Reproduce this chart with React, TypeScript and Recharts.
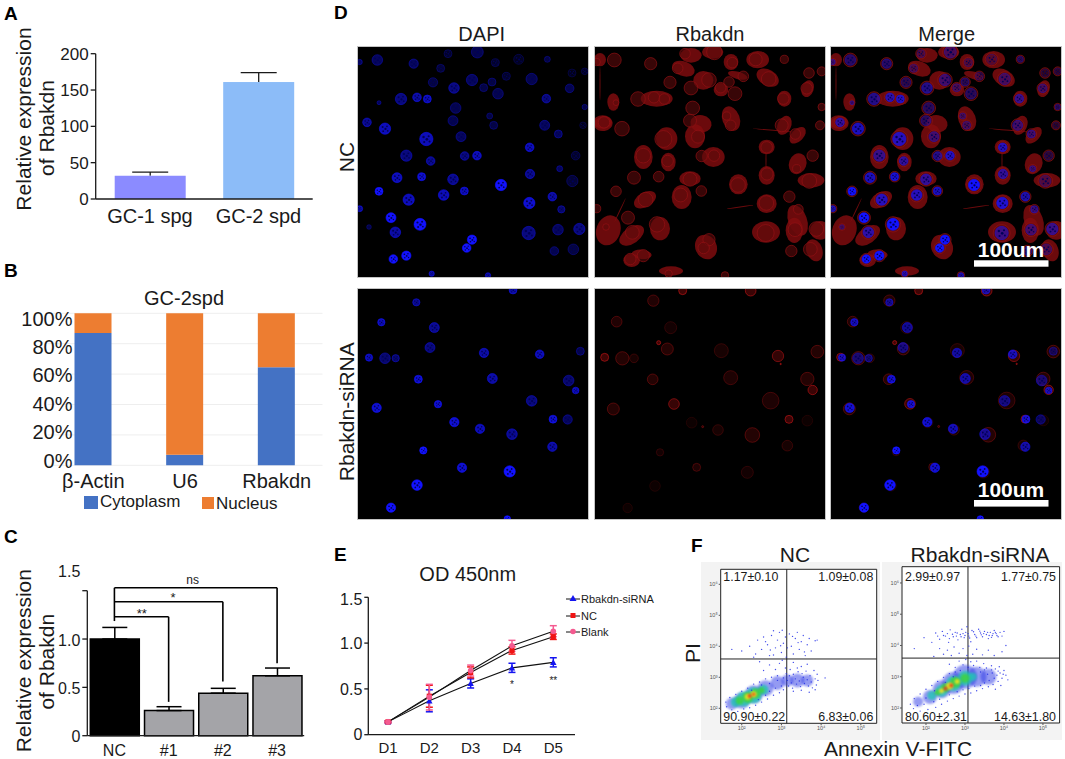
import {
  Bar,
  BarChart,
  CartesianGrid,
  Cell,
  ErrorBar,
  Line,
  LineChart,
  ReferenceArea,
  ReferenceLine,
  Scatter,
  ScatterChart,
  XAxis,
  YAxis,
} from 'recharts';

const FONT = '"Liberation Sans", Arial, sans-serif';
const INK = '#1a1a1a';

// Panel A
const cellLines = ['GC-1 spg', 'GC-2 spd'];
const lineExpression = [32, 161];
const lineExpressionErr = [5, 13];
const lineColors = ['#8b8bff', '#8cbcf8'];

// Panel B
const fractionGenes = ['β-Actin', 'U6', 'Rbakdn'];
const cytoplasmPct = [87, 7, 64.5];
const nucleusPct = [13, 93, 35.5];

// Panel C
const knockdownGroups = ['NC', '#1', '#2', '#3'];
const knockdownValues = [1.0, 0.26, 0.44, 0.62];
const knockdownErr = [0.12, 0.04, 0.05, 0.08];
const knockdownColors = ['#000000', '#a4a4a8', '#a4a4a8', '#a4a4a8'];

// Panel E
const days = ['D1', 'D2', 'D3', 'D4', 'D5'];
const sirnaOD = [0.14, 0.37, 0.56, 0.73, 0.79];
const sirnaErr = [0.01, 0.12, 0.05, 0.05, 0.05];
const ncOD = [0.14, 0.42, 0.68, 0.92, 1.07];
const ncErr = [0.01, 0.12, 0.06, 0.04, 0.03];
const blankOD = [0.14, 0.41, 0.7, 0.97, 1.13];
const blankErr = [0.01, 0.14, 0.06, 0.06, 0.06];

// Panel D: fields of view, [x, y, radius, intensity]
const nucleiNC = [
  [143, 179, 16, 0.6], [252, 190, 14, 0.6], [333, 204, 12, 0.45], [310, 246, 14, 0.5], [427, 239, 17, 0.6],
  [373, 263, 16, 0.7], [462, 262, 12, 0.5], [505, 280, 16, 0.55], [487, 245, 12, 0.5], [606, 236, 17, 0.55],
  [720, 264, 13, 0.55], [650, 295, 13, 0.7], [214, 296, 17, 0.7], [262, 291, 13, 0.8], [293, 296, 12, 0.85],
  [148, 307, 6, 0.6], [378, 323, 16, 0.55], [370, 361, 15, 0.55], [480, 347, 9, 0.5], [492, 375, 12, 0.5],
  [112, 366, 13, 0.75], [166, 385, 17, 0.85], [290, 416, 20, 0.85], [394, 409, 15, 0.6], [645, 375, 15, 0.6],
  [686, 401, 12, 0.6], [600, 441, 13, 0.85], [230, 466, 17, 0.7], [303, 482, 13, 0.75], [405, 467, 13, 0.7],
  [442, 466, 13, 0.85], [738, 466, 13, 0.4], [601, 521, 14, 0.75], [202, 532, 15, 0.85], [276, 529, 12, 0.9],
  [370, 537, 16, 0.75], [514, 554, 17, 1], [728, 542, 17, 0.45], [148, 573, 12, 1], [237, 598, 17, 0.85],
  [342, 584, 16, 0.85], [404, 572, 12, 0.85], [599, 608, 17, 0.9], [668, 589, 13, 0.8], [695, 627, 11, 0.65],
  [184, 652, 15, 1], [271, 672, 18, 1], [197, 696, 16, 0.8], [597, 698, 20, 0.7], [685, 688, 16, 0.6],
  [749, 686, 17, 0.7], [427, 718, 14, 1], [411, 743, 13, 1], [674, 752, 13, 0.55], [731, 747, 16, 0.5],
  [191, 776, 13, 1], [230, 766, 14, 1], [443, 155, 18, 0.55], [355, 160, 12, 0.4], [497, 187, 12, 0.4],
  [567, 177, 15, 0.35], [653, 177, 9, 0.5], [727, 218, 12, 0.3], [765, 213, 10, 0.35], [530, 228, 12, 0.4],
  [765, 320, 8, 0.5], [760, 375, 10, 0.3], [90, 185, 8, 0.6], [90, 625, 9, 0.8], [118, 680, 7, 0.5],
  [690, 505, 9, 0.6], [306, 820, 8, 0.8], [475, 825, 8, 0.8],
];

// [x, y, half length, half width, tilt]
const cytoplasmNC = [
  [125, 690, 36, 46, 20], [195, 705, 42, 24, -35], [280, 685, 30, 35, 0], [110, 370, 28, 22, -10],
  [140, 305, 18, 26, 0], [230, 470, 28, 36, 0], [345, 590, 30, 36, 0], [235, 598, 36, 22, -30],
  [195, 780, 25, 20, 0], [225, 762, 30, 14, 5], [100, 178, 18, 20, 0], [350, 205, 35, 22, 20],
  [493, 355, 26, 38, -20], [403, 370, 32, 26, 10], [108, 365, 28, 20, 0], [733, 540, 40, 22, 0],
  [693, 490, 26, 32, 20], [598, 695, 42, 32, 0], [693, 660, 28, 48, -20], [653, 295, 21, 24, 0],
  [573, 178, 34, 26, 0], [373, 165, 32, 22, 0], [493, 185, 22, 24, 0], [438, 155, 32, 20, 0],
  [603, 232, 36, 24, 30], [513, 225, 30, 11, 15], [723, 265, 18, 26, 20], [653, 375, 20, 30, 25],
  [693, 405, 30, 18, -45], [418, 740, 32, 38, -25], [743, 750, 24, 34, -20], [683, 690, 26, 38, 0],
  [463, 268, 22, 20, 0], [313, 812, 36, 14, 0], [600, 610, 30, 28, 0], [515, 552, 28, 30, 0],
  [600, 440, 24, 22, 0], [600, 525, 24, 28, 0], [300, 415, 32, 34, 0], [385, 408, 30, 36, 0],
  [440, 470, 34, 30, 0], [305, 485, 22, 28, 0], [370, 535, 32, 22, 0], [760, 690, 30, 28, 0],
  [270, 295, 48, 24, 0], [410, 240, 30, 28, 0], [620, 390, 62, 1.5, 5], [598, 480, 1.5, 30, 0],
  [100, 250, 1.5, 50, 0], [520, 620, 40, 1.5, -8], [160, 630, 1.5, 40, 25],
];

const nucleiSi = [
  [260, 67, 11, 0.75], [155, 127, 11, 0.85], [314, 143, 15, 0.75], [301, 203, 15, 0.7], [118, 233, 11, 0.85],
  [166, 235, 16, 0.65], [198, 235, 11, 0.65], [463, 219, 14, 0.8], [630, 223, 13, 0.85], [752, 214, 12, 0.55],
  [266, 298, 12, 0.9], [488, 296, 15, 0.8], [717, 302, 16, 0.65], [738, 332, 10, 0.85], [141, 384, 14, 0.9],
  [325, 373, 11, 0.9], [606, 363, 16, 0.7], [374, 427, 14, 0.9], [451, 447, 14, 0.85], [547, 463, 16, 0.75],
  [670, 418, 12, 0.9], [714, 419, 14, 0.6], [668, 501, 14, 0.8], [281, 512, 11, 1], [397, 564, 14, 0.9],
  [540, 575, 17, 1], [262, 616, 16, 1], [184, 684, 14, 1], [550, 30, 12, 0.8], [533, 718, 10, 1],
];

const redSi = [
  [260, 62, 17, 0.5], [348, 32, 12, 0.95], [150, 125, 16, 0.5], [312, 143, 18, 0.3], [302, 207, 18, 0.55],
  [276, 188, 6, 1], [114, 232, 12, 0.95], [167, 235, 20, 0.55], [202, 235, 13, 0.35], [258, 298, 16, 0.55],
  [322, 372, 16, 0.85], [140, 387, 18, 0.55], [280, 517, 11, 0.3], [265, 618, 16, 0.2], [183, 684, 14, 0.2],
  [375, 428, 16, 0.2], [390, 562, 12, 0.45], [552, 32, 16, 0.9], [464, 212, 21, 0.35], [634, 228, 17, 0.8],
  [752, 215, 19, 0.55], [492, 293, 21, 0.45], [722, 297, 20, 0.55], [738, 330, 14, 0.9], [612, 362, 25, 0.45],
  [667, 418, 12, 0.9], [722, 422, 16, 0.2], [454, 450, 16, 0.35], [557, 465, 22, 0.55], [662, 497, 16, 0.35],
  [542, 577, 18, 0.3], [642, 252, 2, 1], [408, 440, 3, 0.6],
];

// Panel F: log10 events, [annexin, PI], and [annexin, PI, radius, level] for the dense core
const densityNC = [
  [1.75, 2.15, 6, 0], [2.0, 2.25, 8, 0], [2.3, 2.45, 9, 0], [2.6, 2.65, 8, 0], [2.9, 2.82, 7, 0], [3.15, 2.9, 6, 0],
  [3.4, 2.9, 7, 0], [3.65, 2.9, 6, 0],
  [1.85, 2.2, 5, 1], [2.05, 2.3, 7.5, 1], [2.3, 2.42, 8, 1], [2.55, 2.6, 5, 1],
  [1.95, 2.25, 4, 2], [2.15, 2.35, 5.5, 2], [2.35, 2.48, 5, 2], [2.5, 2.58, 3, 2],
  [2.15, 2.37, 3, 3], [2.3, 2.45, 3, 3], [2.2, 2.4, 2, 4], [2.3, 2.45, 1.5, 4],
];
const densitySi = [
  [1.8, 2.2, 5, 0], [2.1, 2.35, 7, 0], [2.4, 2.6, 9, 0], [2.7, 2.8, 11, 0], [3.0, 3.0, 12, 0], [3.3, 3.0, 10, 0], [3.6, 3.0, 8, 0],
  [2.15, 2.4, 4.5, 1], [2.4, 2.55, 6, 1], [2.7, 2.78, 7.5, 1], [3.0, 2.95, 7.5, 1], [3.2, 3.0, 4, 1],
  [2.3, 2.5, 3, 2], [2.5, 2.65, 4.5, 2], [2.75, 2.82, 5.5, 2], [3.0, 2.95, 4.5, 2],
  [2.4, 2.55, 2.5, 3], [2.6, 2.7, 3.5, 3], [2.8, 2.85, 2.5, 3], [2.5, 2.62, 2, 4], [2.65, 2.72, 2, 4],
];
const eventsNC = [
  [2.2, 4.0], [2.35, 3.75], [2.4, 4.2], [2.5, 3.9], [2.55, 4.3], [2.65, 4.05], [2.7, 3.7], [2.75, 4.35], [2.8, 4.5],
  [2.85, 3.95], [2.9, 4.2], [2.95, 4.45], [3.0, 3.8], [3.05, 4.1], [3.1, 4.3], [3.12, 3.65], [3.2, 4.4], [3.25, 4.0],
  [3.3, 3.75], [3.35, 4.25], [3.4, 4.45], [3.45, 3.9], [3.5, 4.15], [3.55, 4.35], [3.6, 3.7], [3.65, 4.05], [3.7, 4.25],
  [3.75, 3.85], [3.85, 4.18], [3.9, 4.2], [1.75, 3.9], [2.0, 3.85], [2.6, 4.15], [2.3, 3.65], [2.8, 3.72], [3.15, 3.95],
  [3.42, 4.12], [2.98, 4.02], [3.28, 4.32], [2.72, 3.88], [3.58, 3.82], [3.02, 4.52], [2.45, 3.5], [2.7, 3.4], [2.95, 3.45],
  [3.1, 3.3], [3.3, 3.48], [3.5, 3.35], [2.55, 3.22], [2.85, 3.25], [3.02, 3.55], [3.22, 3.25], [3.4, 3.3], [3.65, 3.42],
  [3.12, 3.12], [3.2, 3.05], [3.3, 3.1], [3.42, 3.18], [3.52, 3.12], [3.62, 3.2], [3.72, 3.05], [3.82, 3.22], [3.9, 3.1],
  [3.15, 2.9], [3.25, 2.82], [3.35, 2.95], [3.45, 2.88], [3.55, 3.0], [3.65, 2.92], [3.75, 2.85], [3.85, 2.95], [3.92, 2.9],
  [3.18, 2.72], [3.28, 2.65], [3.38, 2.78], [3.48, 2.7], [3.58, 2.8], [3.68, 2.72], [3.78, 2.66], [3.88, 2.75], [3.3, 2.55],
  [3.5, 2.58], [3.7, 2.52], [3.85, 2.6], [4.1, 2.98], [3.05, 2.98], [2.9, 3.05], [2.75, 3.0], [2.6, 2.95], [2.45, 2.85],
  [2.3, 2.78], [2.15, 2.65], [2.0, 2.55], [1.85, 2.45], [1.7, 2.35], [1.6, 2.2], [1.62, 2.05], [1.75, 1.95], [1.9, 1.9],
  [2.05, 1.98], [2.2, 2.02], [2.35, 2.1], [2.5, 2.2], [2.65, 2.3], [2.8, 2.42], [2.95, 2.5], [3.05, 2.6], [3.0, 2.72],
  [2.85, 2.65], [2.7, 2.55], [2.9, 2.9], [2.7, 2.8], [2.5, 2.75], [2.25, 2.58], [2.6, 2.42], [2.42, 2.28],
];
const eventsSi = [
  [1.95, 4.25], [2.15, 4.1], [2.25, 4.4], [2.35, 4.2], [2.42, 4.45], [2.5, 4.3], [2.58, 4.1], [2.62, 4.5], [2.7, 4.28],
  [2.75, 4.42], [2.82, 4.18], [2.88, 4.35], [2.92, 4.52], [2.98, 4.25], [3.02, 4.42], [3.05, 4.6], [3.1, 4.3], [3.15, 4.12],
  [3.18, 4.48], [3.25, 4.35], [3.3, 4.25], [3.35, 4.52], [3.4, 4.4], [3.45, 4.28], [3.5, 4.45], [3.55, 4.35], [3.6, 4.22],
  [3.65, 4.42], [3.7, 4.32], [3.75, 4.48], [3.8, 4.38], [3.85, 4.28], [3.9, 4.42], [3.95, 4.3], [4.0, 4.45], [2.55, 4.38],
  [2.68, 4.36], [2.8, 4.4], [2.95, 4.38], [3.08, 4.38], [3.22, 4.44], [3.42, 4.34], [3.58, 4.42], [3.72, 4.38], [3.82, 4.32],
  [2.6, 4.22], [2.78, 4.3], [2.9, 4.28], [3.0, 4.32], [3.12, 4.24], [3.28, 4.3], [3.38, 4.46], [3.48, 4.38], [3.62, 4.32],
  [3.68, 4.26], [3.78, 4.42], [2.45, 4.32], [2.3, 4.3], [2.2, 3.65], [2.35, 3.9], [2.45, 3.72], [2.55, 3.85], [2.65, 3.68],
  [2.72, 3.95], [2.85, 3.75], [2.95, 3.9], [3.05, 3.68], [3.1, 3.98], [3.2, 3.72], [3.3, 3.88], [3.45, 3.7], [3.6, 3.85],
  [3.75, 3.68], [3.95, 3.8], [1.7, 3.9], [4.05, 4.0], [2.6, 3.4], [2.75, 3.3], [2.85, 3.5], [2.95, 3.38], [3.02, 3.55],
  [3.08, 3.3], [3.15, 3.48], [3.22, 3.36], [3.3, 3.5], [3.38, 3.3], [3.48, 3.42], [3.55, 3.28], [3.68, 3.35], [3.78, 3.25],
  [3.88, 3.32], [4.0, 3.2], [4.05, 3.05], [3.95, 2.95], [3.85, 2.85], [3.72, 2.75], [3.6, 2.68], [3.45, 2.62], [3.3, 2.55],
  [3.15, 2.48], [3.0, 2.45], [2.85, 2.38], [2.7, 2.3], [2.55, 2.22], [2.4, 2.12], [2.25, 2.02], [2.05, 1.95], [1.85, 1.9],
  [1.68, 1.98], [1.6, 2.12], [1.7, 2.3], [1.85, 2.45], [2.0, 2.6], [2.15, 2.72], [2.3, 2.85], [2.45, 2.98], [2.6, 3.1],
  [2.75, 3.15], [2.88, 3.2], [3.82, 3.05], [3.7, 3.12], [3.58, 3.08], [3.9, 3.12], [3.75, 2.95], [3.62, 2.88], [3.5, 2.8],
  [3.4, 2.72], [3.85, 3.18], [3.98, 3.08], [3.68, 3.22], [3.5, 3.22], [3.4, 3.15], [3.25, 2.7], [3.1, 2.62], [2.95, 2.58],
  [2.8, 2.52], [2.6, 2.42], [2.35, 2.28], [2.2, 2.2], [1.95, 2.12], [1.78, 2.08], [2.0, 2.32], [2.22, 2.55], [2.5, 2.82],
  [2.7, 3.0], [4.1, 2.9], [3.92, 2.72], [3.78, 2.6],
];

const densityColors = ['#2a35e6', '#22c4b4', '#3ed23e', '#f0e020', '#ee3a1a'];
const densityOpacity = [0.5, 0.8, 0.85, 0.9, 0.95];
const statsNC = ['1.17±0.10', '1.09±0.08', '90.90±0.22', '6.83±0.06'];
const statsSi = ['2.99±0.97', '1.77±0.75', '80.60±2.31', '14.63±1.80'];
const superscripts: Record<number, string> = { 2: '²', 3: '³', 4: '⁴', 5: '⁵', 6: '⁶' };

const toBars = (labels: string[], values: number[], errs: number[]) =>
  labels.map((name, i) => ({ name, value: values[i], err: [0, errs[i]], up: errs[i] }));

const fractionData = fractionGenes.map((name, i) => ({
  name,
  cytoplasm: cytoplasmPct[i],
  nucleus: nucleusPct[i],
}));

const odData = days.map((name, i) => ({
  name,
  sirna: sirnaOD[i],
  sirnaErr: sirnaErr[i],
  nc: ncOD[i],
  ncErr: ncErr[i],
  blank: blankOD[i],
  blankErr: blankErr[i],
}));

const spots = (rows: number[][]) => rows.map(([x, y, r, b]) => ({ x, y, r, b }));
const bodies = (rows: number[][]) => rows.map(([x, y, rx, ry, tilt]) => ({ x, y, rx, ry, tilt }));
const events = (rows: number[][]) => rows.map(([x, y]) => ({ x, y }));

// Field coordinates are 3x the panel's pixels
const FIELD = 3;

function Frame({ left, top, children, style }: { left: number; top: number; children: React.ReactNode; style?: React.CSSProperties }) {
  return <div style={{ position: 'absolute', left, top, ...style }}>{children}</div>;
}

function NucleusDot(props: any) {
  const { cx, cy, payload } = props;
  const r = payload.r / FIELD;
  const dim = payload.b * payload.b;
  const speck = '#000058';
  return (
    <g>
      <circle cx={cx} cy={cy} r={r} fill="#1212ff" fillOpacity={dim} stroke="#1212ff" strokeOpacity={payload.b} strokeWidth={0.6} />
      <circle cx={cx - r * 0.42} cy={cy - r * 0.3} r={r * 0.18} fill={speck} />
      <circle cx={cx + r * 0.35} cy={cy - r * 0.42} r={r * 0.16} fill={speck} />
      <circle cx={cx + r * 0.08} cy={cy + r * 0.05} r={r * 0.2} fill={speck} />
      <circle cx={cx - r * 0.32} cy={cy + r * 0.45} r={r * 0.16} fill={speck} />
      <circle cx={cx + r * 0.48} cy={cy + r * 0.38} r={r * 0.15} fill={speck} />
    </g>
  );
}

function CytoplasmBlob(props: any) {
  const { cx, cy, payload } = props;
  return (
    <ellipse
      cx={cx}
      cy={cy}
      rx={payload.rx / FIELD}
      ry={payload.ry / FIELD}
      transform={`rotate(${payload.tilt} ${cx} ${cy})`}
      fill="#860d0f"
      fillOpacity={0.8}
    />
  );
}

function RingHalo(props: any) {
  const { cx, cy, payload } = props;
  return (
    <circle
      cx={cx}
      cy={cy}
      r={(payload.r * 1.2) / FIELD + 0.5}
      fill="#5e0a0c"
      fillOpacity={0.6}
      stroke="#961214"
      strokeOpacity={0.7}
      strokeWidth={0.9}
    />
  );
}

function FaintCell(props: any) {
  const { cx, cy, payload } = props;
  return (
    <circle
      cx={cx}
      cy={cy}
      r={payload.r / FIELD}
      fill="#a00c0e"
      fillOpacity={payload.b * 0.4}
      stroke="#c81618"
      strokeOpacity={payload.b * 0.8}
      strokeWidth={0.8}
    />
  );
}

function MicroPanel({ left, top, yDomain, layers }: { left: number; top: number; yDomain: number[]; layers: any[] }) {
  return (
    <Frame left={left} top={top} style={{ outline: '1px solid #c4c4c4', background: '#000', width: 230, height: 230, overflow: 'hidden' }}>
      <div style={{ filter: 'blur(0.3px)' }}>
        <ScatterChart width={230} height={230} margin={{ top: 0, right: 0, bottom: 0, left: 0 }}>
          <XAxis type="number" dataKey="x" domain={[85, 775]} hide />
          <YAxis type="number" dataKey="y" domain={yDomain} reversed hide />
          {layers.map((layer, i) => (
            <Scatter key={i} data={layer.data} shape={layer.shape} isAnimationActive={false} />
          ))}
        </ScatterChart>
      </div>
    </Frame>
  );
}

function DensityBlob(props: any) {
  const { cx, cy, payload } = props;
  return (
    <circle
      cx={cx}
      cy={cy}
      r={payload.r}
      fill={densityColors[payload.b]}
      fillOpacity={densityOpacity[payload.b]}
      style={{ filter: 'blur(1.2px)' }}
    />
  );
}

function EventDot(props: any) {
  return <circle cx={props.cx} cy={props.cy} r={0.7} fill="#2530e8" fillOpacity={0.85} />;
}

function FlowPlot(props: {
  left: number;
  top: number;
  width: number;
  height: number;
  plotInset: { left: number; top: number; right: number; bottom: number };
  xDomain: number[];
  yDomain: number[];
  gateX: number;
  gateY: number;
  density: number[][];
  dots: number[][];
}) {
  const { left, top, width, height, plotInset, xDomain, yDomain, gateX, gateY, density, dots } = props;
  const tickStyle = { fontSize: 5.5, fill: '#555' };
  return (
    <Frame left={left} top={top}>
      <ScatterChart
        width={width}
        height={height}
        margin={{ top: plotInset.top, right: plotInset.right, bottom: 0, left: 0 }}
        style={{ background: '#f3f3f3' }}
      >
        <XAxis
          type="number"
          dataKey="x"
          domain={xDomain}
          ticks={[2, 3, 4, 5]}
          height={plotInset.bottom}
          axisLine={false}
          tickSize={2}
          tickMargin={1}
          stroke="#555"
          tick={tickStyle}
          tickFormatter={(v: number) => `10${superscripts[v]}`}
        />
        <YAxis
          type="number"
          dataKey="y"
          domain={yDomain}
          ticks={[2, 3, 4, 5, 6]}
          width={plotInset.left}
          axisLine={false}
          tickSize={2}
          tickMargin={1}
          stroke="#555"
          tick={tickStyle}
          tickFormatter={(v: number) => `10${superscripts[v]}`}
        />
        <ReferenceArea
          x1={xDomain[0]}
          x2={xDomain[1]}
          y1={yDomain[0]}
          y2={yDomain[1]}
          fill="#fff"
          fillOpacity={1}
          stroke="#222"
          strokeWidth={1}
        />
        <Scatter data={spots(density)} shape={DensityBlob} isAnimationActive={false} />
        <Scatter data={events(dots)} shape={EventDot} isAnimationActive={false} />
        <ReferenceLine x={gateX} stroke="#222" strokeWidth={1} />
        <ReferenceLine y={gateY} stroke="#222" strokeWidth={1} />
      </ScatterChart>
    </Frame>
  );
}

// Panel A only shows the upper whisker, so it is drawn with the bar
function WhiskerBar(props: any) {
  const { x, y, width, height, payload, index } = props;
  const mid = x + width / 2;
  const top = y - (payload.up * height) / payload.value;
  return (
    <g>
      <line x1={mid} x2={mid} y1={y} y2={top} stroke={INK} strokeWidth={1.3} />
      <line x1={mid - 18} x2={mid + 18} y1={top} y2={top} stroke={INK} strokeWidth={1.3} />
      <rect x={x} y={y} width={width} height={height} fill={lineColors[index]} />
    </g>
  );
}

function TriangleMark(props: any) {
  const { cx, cy } = props;
  return <path d={`M${cx} ${cy - 3.2} L${cx + 3.2} ${cy + 2.6} L${cx - 3.2} ${cy + 2.6} Z`} fill="#1414f0" />;
}

function SquareMark(props: any) {
  return <rect x={props.cx - 2.6} y={props.cy - 2.6} width={5.2} height={5.2} fill="#f01414" />;
}

function CircleMark(props: any) {
  return <circle cx={props.cx} cy={props.cy} r={2.8} fill="#f45a90" />;
}

function PanelCTick(props: any) {
  const { x, y, payload } = props;
  // the top label sits well above its tick in the original
  const lift = payload.value === 1.5 ? -19 : 1;
  return (
    <text x={x} y={y + lift} dy="0.36em" textAnchor="end" fontSize={16} fill={INK}>
      {payload.value === 0 ? '0' : payload.value.toFixed(1)}
    </text>
  );
}

function PanelBTick(props: any) {
  const { y, payload } = props;
  // labels are packed slightly tighter than the gridlines in the original
  const shift = (payload.value - 50) / 10;
  return (
    <text x={72.5} y={y + shift} dy="0.36em" textAnchor="end" fontSize={20} fill={INK}>
      {payload.value}%
    </text>
  );
}

function Legends() {
  const legendE = [
    { label: 'Rbakdn-siRNA', mark: <path d="M7 1 L10.5 7 L3.5 7 Z" fill="#1414f0" />, top: 593 },
    { label: 'NC', mark: <rect x={4.5} y={2} width={5} height={5} fill="#f01414" />, top: 609.5 },
    { label: 'Blank', mark: <circle cx={7} cy={4.5} r={2.8} fill="#f45a90" />, top: 626 },
  ];
  return (
    <>
      {legendE.map((item) => (
        <div
          key={item.label}
          style={{ position: 'absolute', left: 566, top: item.top, display: 'flex', alignItems: 'center', fontSize: 11, color: INK }}
        >
          <svg width={15} height={10} style={{ display: 'block' }}>
            <line x1={0} x2={14} y1={5} y2={5} stroke="#111" strokeWidth={1} />
            {item.mark}
          </svg>
          <span>{item.label}</span>
        </div>
      ))}
      <div style={{ position: 'absolute', left: 84, top: 496, width: 14, height: 13, background: '#4472c4' }} />
      <div style={{ position: 'absolute', left: 100, top: 492, fontSize: 17, color: INK }}>Cytoplasm</div>
      <div style={{ position: 'absolute', left: 202, top: 497, width: 12, height: 12, background: '#ed7d31' }} />
      <div style={{ position: 'absolute', left: 216, top: 494, fontSize: 17, color: INK }}>Nucleus</div>
    </>
  );
}

function Labels() {
  const letters = [
    ['A', 4, 19.5], ['B', 4, 277], ['C', 4, 543], ['D', 334, 18.5], ['E', 334, 561], ['F', 691, 551.5],
  ] as const;
  const centered = [
    ['DAPI', 481.7, 41, 20], ['Rbakdn', 710, 41, 20], ['Merge', 946.7, 41, 20], ['GC-2spd', 184, 305, 20],
    ['OD 450nm', 467.7, 581, 20], ['NC', 795, 562, 21], ['Rbakdn-siRNA', 980, 562, 21],
    ['Annexin V-FITC', 898, 756, 21], ['ns', 192.7, 584, 12], ['*', 173, 602, 13], ['**', 141.7, 618, 13],
    ['*', 512, 688, 10], ['**', 553.3, 684, 10],
  ] as const;
  const rotated = [
    ['Relative expression', 31, 119, 21], ['of Rbakdn', 54, 128, 21], ['Relative expression', 31, 660.7, 21],
    ['of Rbakdn', 54, 661.7, 21], ['NC', 354, 157, 21], ['Rbakdn-siRNA', 354, 411.7, 21], ['PI', 700, 653, 21],
  ] as const;
  const stats = [
    [statsNC[0], 723.3, 580.7, 'start'], [statsNC[1], 873.3, 580.7, 'end'], [statsNC[2], 723.3, 720.7, 'start'],
    [statsNC[3], 873.3, 720.7, 'end'], [statsSi[0], 905, 580.7, 'start'], [statsSi[1], 1056, 580.7, 'end'],
    [statsSi[2], 905, 720.7, 'start'], [statsSi[3], 1056, 720.7, 'end'],
  ] as const;
  return (
    <svg width={1065} height={759} style={{ position: 'absolute', left: 0, top: 0, pointerEvents: 'none' }}>
      {letters.map(([t, x, y]) => (
        <text key={t} x={x} y={y} fontSize={19} fontWeight="bold" fill="#000">{t}</text>
      ))}
      {centered.map(([t, x, y, size]) => (
        <text key={`${t}${x}`} x={x} y={y} fontSize={size} textAnchor="middle" fill={INK}>{t}</text>
      ))}
      {rotated.map(([t, x, y, size]) => (
        <text key={`${t}${y}`} x={x} y={y} fontSize={size} textAnchor="middle" fill={INK} transform={`rotate(-90 ${x} ${y})`}>
          {t}
        </text>
      ))}
      {stats.map(([t, x, y, anchor]) => (
        <text key={t} x={x} y={y} fontSize={12.4} textAnchor={anchor} fill={INK}>{t}</text>
      ))}
      <text x={1011} y={256.5} fontSize={21} fontWeight="bold" textAnchor="middle" fill="#fff">100um</text>
      <rect x={974} y={260.3} width={74.5} height={6.4} fill="#fff" />
      <text x={1011} y={496.5} fontSize={21} fontWeight="bold" textAnchor="middle" fill="#fff">100um</text>
      <rect x={974} y={500} width={74.5} height={6.6} fill="#fff" />
    </svg>
  );
}

export default function App() {
  const blue = spots(nucleiNC);
  const red = bodies(cytoplasmNC);
  const blueSi = spots(nucleiSi);
  const redCells = spots(redSi);
  const axisStroke = { stroke: INK, strokeWidth: 1.3 };
  return (
    <div style={{ position: 'absolute', left: 0, top: 0, width: 1065, height: 759, fontFamily: FONT, background: '#fff', overflow: 'hidden' }}>
      {/* A */}
      <Frame left={30} top={40}>
        <BarChart
          width={290}
          height={191}
          data={toBars(cellLines, lineExpression, lineExpressionErr)}
          margin={{ top: 13.7, right: 7.3, bottom: 0, left: 0 }}
          barSize={71}
        >
          <XAxis dataKey="name" height={32} tickLine={false} tickMargin={4} axisLine={axisStroke} tick={{ fontSize: 20, fill: INK }} interval={0} />
          <YAxis width={65.7} domain={[0, 200]} ticks={[0, 50, 100, 150, 200]} tickSize={5} tickMargin={2} axisLine={axisStroke} tickLine={axisStroke} tick={{ fontSize: 17, fill: INK }} />
          <Bar dataKey="value" shape={WhiskerBar} isAnimationActive={false} />
        </BarChart>
      </Frame>

      {/* B */}
      <Frame left={0} top={303}>
        <BarChart
          width={330}
          height={192}
          data={fractionData}
          margin={{ top: 10.3, right: 7.5, bottom: 0, left: 0 }}
          barSize={37}
        >
          <CartesianGrid vertical={false} stroke="#eeeeee" />
          <XAxis dataKey="name" height={29.7} axisLine={false} tickLine={false} tickMargin={2} tick={{ fontSize: 20, fill: INK }} interval={0} />
          <YAxis width={47.5} domain={[0, 100]} ticks={[0, 20, 40, 60, 80, 100]} axisLine={false} tickLine={false} tick={<PanelBTick />} />
          <Bar dataKey="cytoplasm" stackId="a" fill="#4472c4" isAnimationActive={false} />
          <Bar dataKey="nucleus" stackId="a" fill="#ed7d31" isAnimationActive={false} />
        </BarChart>
      </Frame>

      {/* C */}
      <Frame left={20} top={555}>
        <BarChart
          width={290}
          height={204}
          data={toBars(knockdownGroups, knockdownValues, knockdownErr)}
          margin={{ top: 35.7, right: 5.8, bottom: 0, left: 0 }}
          barSize={49}
        >
          <XAxis dataKey="name" height={23.3} tickLine={false} tickMargin={3} axisLine={axisStroke} tick={{ fontSize: 16, fill: INK }} interval={0} />
          <YAxis width={67.3} domain={[0, 1.5]} ticks={[0, 0.5, 1.0, 1.5]} tickSize={5} axisLine={axisStroke} tickLine={axisStroke} tick={<PanelCTick />} />
          <Bar dataKey="value" stroke="#000" strokeWidth={1.5} isAnimationActive={false}>
            {knockdownColors.map((c, i) => <Cell key={i} fill={c} />)}
            <ErrorBar dataKey="err" direction="y" width={12.5} stroke="#000" strokeWidth={1.5} />
          </Bar>
          <ReferenceLine ifOverflow="visible" stroke="#000" strokeWidth={1.6} segment={[{ x: 'NC', y: 1.53 }, { x: 'NC', y: 1.186 }]} />
          <ReferenceLine ifOverflow="visible" stroke="#000" strokeWidth={1.6} segment={[{ x: 'NC', y: 1.53 }, { x: '#3', y: 1.53 }]} />
          <ReferenceLine ifOverflow="visible" stroke="#000" strokeWidth={1.6} segment={[{ x: '#3', y: 1.53 }, { x: '#3', y: 0.75 }]} />
          <ReferenceLine ifOverflow="visible" stroke="#000" strokeWidth={1.6} segment={[{ x: 'NC', y: 1.386 }, { x: '#2', y: 1.386 }]} />
          <ReferenceLine ifOverflow="visible" stroke="#000" strokeWidth={1.6} segment={[{ x: '#2', y: 1.386 }, { x: '#2', y: 0.56 }]} />
          <ReferenceLine ifOverflow="visible" stroke="#000" strokeWidth={1.6} segment={[{ x: 'NC', y: 1.23 }, { x: '#1', y: 1.23 }]} />
          <ReferenceLine ifOverflow="visible" stroke="#000" strokeWidth={1.6} segment={[{ x: '#1', y: 1.23 }, { x: '#1', y: 0.35 }]} />
        </BarChart>
      </Frame>

      {/* D */}
      <MicroPanel left={358.3} top={46.7} yDomain={[140, 830]} layers={[{ data: blue, shape: NucleusDot }]} />
      <MicroPanel left={595} top={46.7} yDomain={[140, 830]} layers={[{ data: red, shape: CytoplasmBlob }, { data: blue, shape: RingHalo }]} />
      <MicroPanel left={830.7} top={46.7} yDomain={[140, 830]} layers={[{ data: red, shape: CytoplasmBlob }, { data: blue, shape: RingHalo }, { data: blue, shape: NucleusDot }]} />
      <MicroPanel left={358.3} top={289} yDomain={[27, 717]} layers={[{ data: blueSi, shape: NucleusDot }]} />
      <MicroPanel left={595} top={289} yDomain={[27, 717]} layers={[{ data: redCells, shape: FaintCell }]} />
      <MicroPanel left={830.7} top={289} yDomain={[27, 717]} layers={[{ data: redCells, shape: FaintCell }, { data: blueSi, shape: NucleusDot }]} />

      {/* E */}
      <Frame left={335} top={590}>
        <LineChart
          width={245}
          height={169}
          data={odData}
          margin={{ top: 7.3, right: 5, bottom: 0, left: 0 }}
        >
          <XAxis dataKey="name" height={24.3} padding={{ left: 19.7, right: 21.7 }} tickLine={false} tickMargin={2} axisLine={axisStroke} tick={{ fontSize: 15, fill: INK }} interval={0} />
          <YAxis width={33.3} domain={[0, 1.5]} ticks={[0, 0.5, 1.0, 1.5]} tickSize={4} tickFormatter={(v: number) => (v === 0 ? '0' : v.toFixed(1))} axisLine={axisStroke} tickLine={axisStroke} tick={{ fontSize: 16, fill: INK }} />
          <Line dataKey="sirna" stroke="#111" strokeWidth={1.1} dot={<TriangleMark />} isAnimationActive={false} type="linear">
            <ErrorBar dataKey="sirnaErr" direction="y" width={3.5} stroke="#1414f0" strokeWidth={1.5} />
          </Line>
          <Line dataKey="nc" stroke="#111" strokeWidth={1.1} dot={<SquareMark />} isAnimationActive={false} type="linear">
            <ErrorBar dataKey="ncErr" direction="y" width={3.5} stroke="#f01414" strokeWidth={1.5} />
          </Line>
          <Line dataKey="blank" stroke="#111" strokeWidth={1.1} dot={<CircleMark />} isAnimationActive={false} type="linear">
            <ErrorBar dataKey="blankErr" direction="y" width={3.5} stroke="#f45a90" strokeWidth={1.5} />
          </Line>
        </LineChart>
      </Frame>

      {/* F */}
      <FlowPlot
        left={701}
        top={562}
        width={179}
        height={178}
        plotInset={{ left: 19.7, top: 7.3, right: 3.3, bottom: 16.7 }}
        xDomain={[1.47, 5.4]}
        yDomain={[1.516, 6.484]}
        gateX={3.134}
        gateY={3.591}
        density={densityNC}
        dots={eventsNC}
      />
      <FlowPlot
        left={881.7}
        top={562}
        width={180}
        height={178}
        plotInset={{ left: 20, top: 4.7, right: 2.4, bottom: 17 }}
        xDomain={[1.385, 5.427]}
        yDomain={[1.52, 6.52]}
        gateX={3.077}
        gateY={3.596}
        density={densitySi}
        dots={eventsSi}
      />

      <Legends />
      <Labels />
    </div>
  );
}
